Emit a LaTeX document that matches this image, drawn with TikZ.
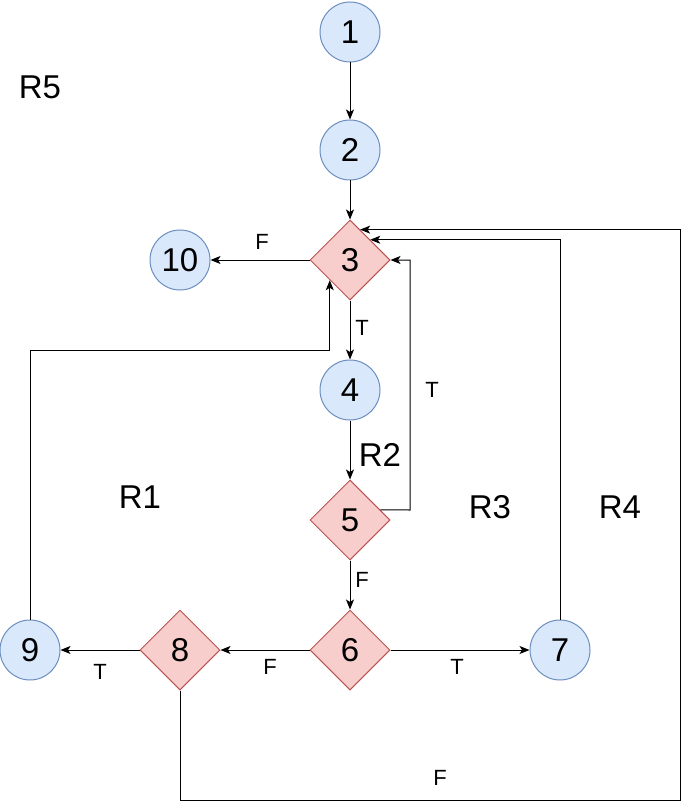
\documentclass[tikz,border=0pt]{standalone}
\usepackage{fontspec}
\setmainfont{Liberation Sans}
\usetikzlibrary{shapes.geometric,arrows.meta,calc}
\definecolor{cfill}{HTML}{DAE8FC}
\definecolor{cdraw}{HTML}{6C8EBF}
\definecolor{dfill}{HTML}{F8CECC}
\definecolor{ddraw}{HTML}{B85450}
\tikzset{
  circnode/.style={circle,draw=cdraw,fill=cfill,line width=1pt,minimum size=60pt,inner sep=0pt,font=\fontsize{33}{33}\selectfont},
  decnode/.style={diamond,draw=ddraw,fill=dfill,line width=1pt,minimum width=80pt,minimum height=80pt,inner sep=0pt,font=\fontsize{33}{33}\selectfont},
  conn/.style={line width=1pt,-{Stealth[length=10pt,width=8pt,inset=2.5pt]}},
  elabel/.style={font=\fontsize{22}{22}\selectfont,inner sep=0pt},
  rlabel/.style={font=\fontsize{33}{33}\selectfont,inner sep=0pt}
}
\begin{document}
\begin{tikzpicture}[x=1pt,y=-1pt]
\useasboundingbox (0,0) rectangle (690,810);
\node[circnode] (n1) at (350,32) {1};
\node[circnode] (n2) at (350,150) {2};
\node[decnode] (n3) at (350,260) {3};
\node[circnode] (n10) at (180,260) {10};
\node[circnode] (n4) at (350,390) {4};
\node[decnode] (n5) at (350,520) {5};
\node[decnode] (n6) at (350,650) {6};
\node[circnode] (n7) at (560,650) {7};
\node[decnode] (n8) at (180,650) {8};
\node[circnode] (n9) at (30,650) {9};
\coordinate (a53) at ($(n5.north)!0.75!(n5.east)$);
\coordinate (a83) at ($(n3.north)!0.25!(n3.east)$);
\coordinate (b1) at (680,800);
\coordinate (b9) at (30,350);
\coordinate (b5) at (410,510);
\draw[conn] (n1) -- (n2);
\draw[conn] (n2) -- (n3);
\draw[conn] (n3.west) -- (n10.east);
\draw[conn] (n3) -- (n4);
\draw[conn] (n4) -- (n5);
\draw[conn] (a53) -- (b5) |- (n3.east);
\draw[conn] (n5) -- (n6);
\draw[conn] (n6.east) -- (n7.west);
\draw[conn] (n6.west) -- (n8.east);
\draw[conn] (n8.west) -- (n9.east);
\draw[conn] (n9.north) -- (b9) -| (n3.south west);
\draw[conn] (n7.north) |- (n3.north east);
\draw[conn] (n8.south) |- (b1) |- (a83);
\node[elabel] (lf1) at (262,242) {F};
\node[elabel] (lt1) at (362,328) {T};
\node[elabel] (lt2) at (432,390) {T};
\node[elabel] (lf2) at (362,580) {F};
\node[elabel] (lf3) at (270,667) {F};
\node[elabel] (lt3) at (457,667) {T};
\node[elabel] (lt4) at (100,672) {T};
\node[elabel] (lf4) at (440,778) {F};
\node[rlabel] (r5) at (40,87) {R5};
\node[rlabel] (r2) at (380,455) {R2};
\node[rlabel] (r1) at (140,497) {R1};
\node[rlabel] (r3) at (490,507) {R3};
\node[rlabel] (r4) at (620,507) {R4};
\end{tikzpicture}
\end{document}
